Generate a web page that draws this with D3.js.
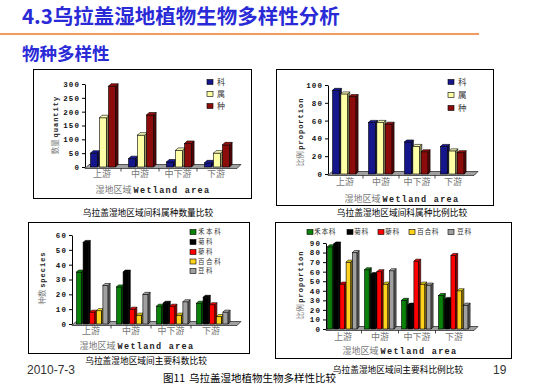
<!DOCTYPE html>
<html>
<head>
<meta charset="utf-8">
<script src="https://cdn.jsdelivr.net/npm/d3@7"></script>
<style>
body { margin: 0; background: #fff; }
svg { display: block; }
</style>
</head>
<body>
<svg id="slide" width="537" height="390"></svg>
<script>
// data
var regions = ["上游", "中游", "中下游", "下游"];
var ranks = ["科", "属", "种"];
var familyCount = [50, 30, 18, 15];
var genusCount = [178, 115, 60, 50];
var speciesCount = [292, 188, 85, 80];
var familyPct = [94, 58, 36, 31];
var genusPct = [90, 58, 31, 26];
var speciesPct = [87, 56, 25, 24];
var mainFamilies = ["禾本科", "菊科", "藜科", "百合科", "豆科"];
var poaceaeCount = [35, 25, 12, 14];
var asteraceaeCount = [55, 35, 14, 18];
var chenopodCount = [8, 10, 12, 13];
var liliaceaeCount = [9, 6, 6, 5];
var fabaceaeCount = [26, 20, 15, 8];
var poaceaePct = [86, 62, 30, 35];
var asteraceaePct = [89, 57, 25, 31];
var chenopodPct = [47, 60, 71, 77];
var liliaceaePct = [70, 47, 47, 40];
var fabaceaePct = [80, 61, 46, 25];
var countTicks = [0, 50, 100, 150, 200, 250, 300];
var pctTicks = [0, 20, 40, 60, 80, 100];
var familyTicks = [0, 10, 20, 30, 40, 50, 60];
var familyPctTicks = [0, 10, 20, 30, 40, 50, 60, 70, 80, 90];

var rankColors = ["#16168c", "#ffffa6", "#8c0c0c"];
var familyColors = ["#0a820a", "#000000", "#ff0000", "#ffd21e", "#a0a0a0"];

var CJK = "'Noto Sans CJK SC', sans-serif";
var MONO = "'Liberation Mono', monospace";

var svg = d3.select("#slide");
svg.append("rect").attr("width", 537).attr("height", 390).attr("fill", "#fff");

// slide header
svg.append("text").attr("x", 22).attr("y", 24)
    .style("font-family", CJK).style("font-size", "20.5px").style("font-weight", "bold")
    .attr("fill", "#2a2ad6").text("4.3乌拉盖湿地植物生物多样性分析");
svg.append("line").attr("x1", 0).attr("x2", 479).attr("y1", 34).attr("y2", 34)
    .attr("stroke", "#f07828").attr("stroke-width", 1.5);
svg.append("text").attr("x", 22).attr("y", 60)
    .style("font-family", CJK).style("font-size", "17.5px").style("font-weight", "bold")
    .attr("fill", "#2a2ad6").text("物种多样性");

function zip(names, arrays, colors){
    return names.map(function(n, i){ return {name: n, values: arrays[i], color: colors[i]}; });
}

function drawChart(cfg, series){
    var g = svg.append("g");
    var f = cfg.frame;
    g.append("rect").attr("x", f[0] + 0.5).attr("y", f[1] + 0.5)
        .attr("width", f[2] - f[0]).attr("height", f[3] - f[1])
        .attr("fill", "#fff").attr("stroke", "#000");

    var y = d3.scaleLinear().domain([0, cfg.max]).range([cfg.y0, cfg.yTop]);
    var x = d3.scaleBand().domain(regions).range(cfg.xRange);
    var xs = d3.scaleBand().domain(series.map(function(s){ return s.name; })).range([0, cfg.groupW]);
    var d = cfg.depth;

    // floor
    var ax = cfg.axisX, y0 = cfg.y0, end = cfg.floorEnd;
    g.append("polygon")
        .attr("points", [[ax, y0 + 1.5], [ax + 4, y0 - 2.5], [end + 4, y0 - 2.5], [end, y0 + 1.5]].join(" "))
        .attr("fill", "#a0a0a0").attr("stroke", "#000").attr("stroke-width", 0.6);

    // separators between regions
    regions.slice(1).forEach(function(r){
        g.append("line").attr("x1", x(r)).attr("x2", x(r))
            .attr("y1", y0 + 1.5).attr("y2", y0 + 4.5).attr("stroke", "#000").attr("stroke-width", 0.7);
    });

    // axis
    var axis = g.append("g").attr("transform", "translate(" + ax + ",0)")
        .call(d3.axisLeft(y).tickValues(cfg.ticks).tickSize(3).tickSizeOuter(0).tickPadding(2));
    axis.select(".domain").attr("stroke", "#000");
    axis.selectAll(".tick line").attr("stroke", "#000");
    axis.selectAll("text").style("font-family", MONO).style("font-weight", "bold")
        .style("font-size", "7.5px").style("letter-spacing", "1.1px").attr("fill", "#111");

    // bars
    regions.forEach(function(r, i){
        series.forEach(function(s){
            var v = s.values[i];
            var w = xs.bandwidth() - d + 0.6;
            var bx = x(r) + x.bandwidth() / 2 - cfg.groupW / 2 + xs(s.name) + cfg.shift;
            var yv = y(v);
            var c = d3.color(s.color);
            var bar = g.append("g");
            bar.append("rect").attr("x", bx).attr("y", yv).attr("width", w).attr("height", y0 - yv)
                .attr("fill", s.color).attr("stroke", "#000").attr("stroke-width", 0.6);
            bar.append("polygon")
                .attr("points", [[bx + w, yv], [bx + w + d, yv - d], [bx + w + d, y0 - d], [bx + w, y0]].join(" "))
                .attr("fill", c.darker(1.4)).attr("stroke", "#000").attr("stroke-width", 0.6);
            bar.append("polygon")
                .attr("points", [[bx, yv], [bx + d, yv - d], [bx + w + d, yv - d], [bx + w, yv]].join(" "))
                .attr("fill", c.brighter(0.3)).attr("stroke", "#000").attr("stroke-width", 0.6);
        });
    });

    // category labels
    regions.forEach(function(r){
        g.append("text").attr("x", x(r) + x.bandwidth() / 2).attr("y", cfg.catY).attr("dy", "0.35em")
            .attr("text-anchor", "middle").style("font-family", CJK).style("font-size", "9px")
            .attr("fill", "#777").text(r);
    });

    // x title
    var xt = g.append("text").attr("x", cfg.xTitle[0]).attr("y", cfg.xTitle[1]).attr("dy", "0.35em")
        .attr("text-anchor", "middle");
    xt.append("tspan").style("font-family", CJK).style("font-size", "9px").attr("fill", "#777").text("湿地区域 ");
    xt.append("tspan").style("font-family", MONO).style("font-weight", "bold").style("font-size", "8.5px")
        .style("letter-spacing", "1.3px").attr("fill", "#222").text("Wetland area");

    // y title
    var yt = g.append("text").attr("transform", "translate(" + cfg.yTitle[0] + "," + cfg.yTitle[1] + ") rotate(-90)")
        .attr("dy", "0.35em").attr("text-anchor", "middle");
    yt.append("tspan").style("font-family", CJK).style("font-size", "7.5px").attr("fill", "#777").text(cfg.yTitle[2] + " ");
    yt.append("tspan").style("font-family", MONO).style("font-weight", "bold").style("font-size", "7px")
        .style("letter-spacing", "1px").attr("fill", "#222").text(cfg.yTitle[3]);

    // legend
    series.forEach(function(s, i){
        var lx = cfg.legend.xs ? cfg.legend.xs[i] : cfg.legend.x;
        var ly = cfg.legend.ys ? cfg.legend.ys[i] : cfg.legend.y;
        var tx = cfg.legend.txs ? cfg.legend.txs[i] : cfg.legend.tx;
        g.append("rect").attr("x", lx).attr("y", ly - 2.5).attr("width", 6).attr("height", 5)
            .attr("fill", s.color).attr("stroke", "#000").attr("stroke-width", 0.6);
        g.append("text").attr("x", tx).attr("y", ly).attr("dy", "0.35em")
            .style("font-family", CJK).style("font-size", cfg.legend.size + "px")
            .style("letter-spacing", cfg.legend.spacing + "px").attr("fill", "#333").text(s.name);
    });

    // caption
    g.append("text").attr("x", cfg.caption[0]).attr("y", cfg.caption[1]).attr("dy", "0.35em")
        .attr("text-anchor", "middle").style("font-family", CJK).style("font-size", "8.7px")
        .attr("fill", "#000").text(cfg.caption[2]);
}

drawChart({
    frame: [33, 69, 251, 198], axisX: 85, y0: 167, yTop: 84, max: 300, ticks: countTicks,
    xRange: [83, 235], floorEnd: 237, groupW: 27, depth: 2.5, shift: 2,
    catY: 174, xTitle: [153, 187], yTitle: [52, 125, "数量", "quantity"],
    legend: {x: 207, ys: [82, 94, 106], tx: 217, size: 8, spacing: 0},
    caption: [148, 213, "乌拉盖湿地区域间科属种数量比较"]
}, zip(ranks, [familyCount, genusCount, speciesCount], rankColors));

drawChart({
    frame: [276, 69, 493, 205], axisX: 328, y0: 174, yTop: 85, max: 100, ticks: pctTicks,
    xRange: [327, 471], floorEnd: 474, groupW: 25, depth: 2, shift: 0,
    catY: 182, xTitle: [402, 196], yTitle: [297, 132, "比例", "proportion"],
    legend: {x: 448, ys: [82, 95, 108], tx: 458, size: 8.5, spacing: 0},
    caption: [402, 213, "乌拉盖湿地区域间科属种比例比较"]
}, zip(ranks, [familyPct, genusPct, speciesPct], rankColors));

drawChart({
    frame: [28, 222, 249, 353], axisX: 72, y0: 324, yTop: 235, max: 60, ticks: familyTicks,
    xRange: [71, 231], floorEnd: 237, groupW: 33, depth: 2, shift: 2,
    catY: 331, xTitle: [137, 343], yTitle: [39, 278, "种数", "species"],
    legend: {x: 190, ys: [232, 242, 252, 261.5, 271], tx: 198, size: 6.5, spacing: 1.6},
    caption: [146, 361, "乌拉盖湿地区域间主要科数比较"]
}, zip(mainFamilies, [poaceaeCount, asteraceaeCount, chenopodCount, liliaceaeCount, fabaceaeCount], familyColors));

drawChart({
    frame: [275, 222, 511, 358], axisX: 326, y0: 329, yTop: 243, max: 90, ticks: familyPctTicks,
    xRange: [324.5, 472.5], floorEnd: 474, groupW: 31, depth: 2, shift: 0,
    catY: 337, xTitle: [400, 348], yTitle: [297, 285, "比例", "proportion"],
    legend: {xs: [307, 347, 378, 409, 448], y: 232, txs: [314, 354, 385, 417, 457], size: 6.8, spacing: 0.6},
    caption: [398, 370, "乌拉盖湿地区域间主要科比例比较"]
}, zip(mainFamilies, [poaceaePct, asteraceaePct, chenopodPct, liliaceaePct, fabaceaePct], familyColors));

// footer
svg.append("text").attr("x", 27).attr("y", 374)
    .style("font-family", "'Liberation Sans', Arial, sans-serif").style("font-size", "12px")
    .attr("fill", "#333").text("2010-7-3");
svg.append("text").attr("x", 493).attr("y", 374)
    .style("font-family", "'Liberation Sans', Arial, sans-serif").style("font-size", "12px")
    .attr("fill", "#333").text("19");
svg.append("text").attr("x", 163).attr("y", 382)
    .style("font-family", CJK).style("font-size", "10.5px").attr("fill", "#000").text("图11");
svg.append("text").attr("x", 189).attr("y", 382)
    .style("font-family", CJK).style("font-size", "10.5px").attr("fill", "#000").text("乌拉盖湿地植物生物多样性比较");
</script>
</body>
</html>
